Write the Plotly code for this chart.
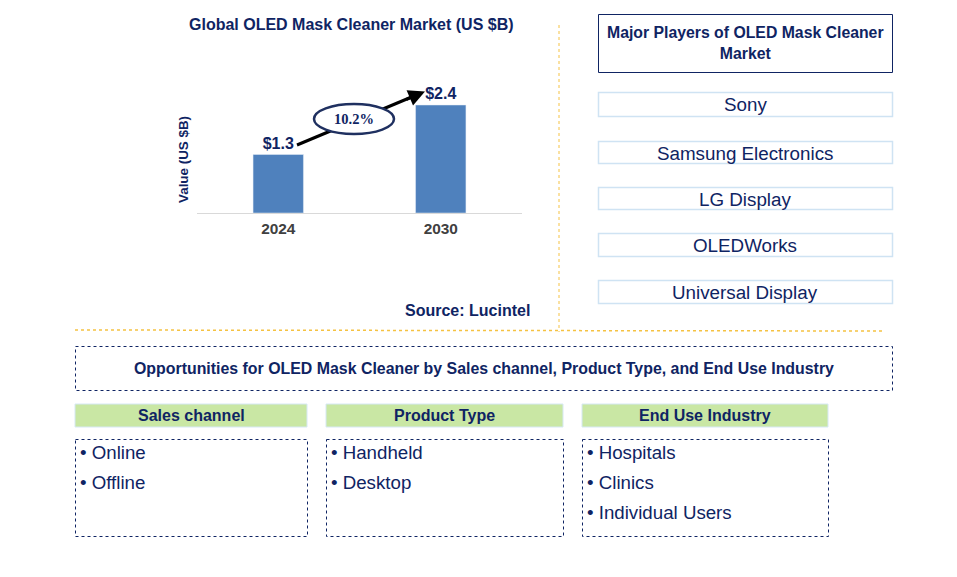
import plotly.graph_objects as go

years = ["2024", "2030"]
values = [1.3, 2.4]
value_labels = ["$1.3", "$2.4"]
cagr = "10.2%"
players = ["Sony", "Samsung Electronics", "LG Display", "OLEDWorks", "Universal Display"]
seg_titles = ["Sales channel", "Product Type", "End Use Industry"]
seg_items = [["Online", "Offline"], ["Handheld", "Desktop"], ["Hospitals", "Clinics", "Individual Users"]]

OFF = 8
W, H = 957 - 2 * OFF, 577 - 2 * OFF
NAVY = "#0f2463"
FONT = "Arial, Liberation Sans, sans-serif"


def px(x):
    return (x - OFF) / W


def py(y):
    return 1 - (y - OFF) / H


def text(x, y, t, size, xanchor="center", family=FONT, color=NAVY, angle=0):
    return dict(x=px(x), y=py(y), xref="paper", yref="paper", text=t, showarrow=False,
                xanchor=xanchor, yanchor="middle", textangle=angle,
                font=dict(family=family, size=size, color=color))


fig = go.Figure()
fig.add_trace(go.Bar(
    x=years, y=values, marker_color="#4f81bd", width=0.31,
    text=value_labels, texttemplate="<b>%{text}</b>", textposition="outside",
    textfont=dict(family=FONT, size=16, color=NAVY),
    cliponaxis=False, hoverinfo="skip",
))

shapes = []
annotations = []

annotations.append(text(351, 25, "<b>Global OLED Mask Cleaner Market (US $B)</b>", 16))
annotations.append(text(183, 160, "<b>Value (US $B)</b>", 13.4, angle=-90))
annotations.append(text(467, 310, "<b>Source: Lucintel</b>", 16))

# Arrow line + ellipse
shapes.append(dict(type="line", xref="paper", yref="paper", x0=px(297), y0=py(145), x1=px(414), y1=py(96),
                   line=dict(color="black", width=3)))
shapes.append(dict(type="circle", xref="paper", yref="paper", x0=px(314), y0=py(104), x1=px(394), y1=py(134),
                   line=dict(color="#1f3060", width=2.5), fillcolor="white"))
annotations.append(dict(x=px(425), y=py(91.5), ax=-20, ay=8.5, xref="paper", yref="paper", axref="pixel", ayref="pixel",
                        text="", showarrow=True, arrowhead=2, arrowsize=1.1, arrowwidth=3, arrowcolor="black"))
annotations.append(text(354, 119, "<b>" + cagr + "</b>", 14.5, family="Times New Roman, Liberation Serif, serif"))

# Divider lines
shapes.append(dict(type="line", xref="paper", yref="paper", x0=px(559), y0=py(25), x1=px(559), y1=py(332),
                   line=dict(color="#f5c242", width=1, dash="dot")))
shapes.append(dict(type="line", xref="paper", yref="paper", x0=px(75), y0=py(330), x1=px(882), y1=py(331),
                   line=dict(color="#f5c242", width=1.5, dash="dot")))

# Major players header
shapes.append(dict(type="rect", xref="paper", yref="paper", x0=px(598.5), y0=py(14.5), x1=px(892.5), y1=py(72.5),
                   line=dict(color=NAVY, width=1)))
annotations.append(text(745, 43, "<b>Major Players of OLED Mask Cleaner<br>Market</b>", 15.8))

player_boxes = [(92, 116), (141, 163), (187, 209), (233, 256), (280, 303)]
for name, (t, b) in zip(players, player_boxes):
    shapes.append(dict(type="rect", xref="paper", yref="paper", x0=px(598.5), y0=py(t + 0.5), x1=px(892.5), y1=py(b + 0.5),
                       line=dict(color="#cfe3f3", width=1.5)))
    annotations.append(text(745, (t + b) / 2 + 1, name, 18.8))

# Opportunities box
shapes.append(dict(type="rect", xref="paper", yref="paper", x0=px(75.5), y0=py(346.5), x1=px(892.5), y1=py(390.5),
                   line=dict(color=NAVY, width=1, dash="dot")))
annotations.append(text(484, 368,
                        "<b>Opportunities for OLED Mask Cleaner by Sales channel, Product Type, and End Use Industry</b>", 15.9))

cols = [(75, 307), (326, 563), (582, 828)]
for (l, r), title, items in zip(cols, seg_titles, seg_items):
    shapes.append(dict(type="rect", xref="paper", yref="paper", x0=px(l), y0=py(404), x1=px(r), y1=py(427),
                       line=dict(color="#d6e8f5", width=1), fillcolor="#c9e7a4"))
    annotations.append(text((l + r) / 2, 415.5, "<b>" + title + "</b>", 16))
    shapes.append(dict(type="rect", xref="paper", yref="paper", x0=px(l + 0.5), y0=py(439.5), x1=px(r + 0.5), y1=py(536.5),
                       line=dict(color=NAVY, width=1, dash="dot")))
    for i, it in enumerate(items):
        annotations.append(text(l + 3, 452 + 30 * i, "• " + it, 18.7, xanchor="left"))

fig.update_layout(
    width=W, height=H, margin=dict(l=0, r=0, t=0, b=0), autosize=False,
    paper_bgcolor="white", plot_bgcolor="white", showlegend=False,
    shapes=shapes, annotations=annotations,
    xaxis=dict(domain=[px(197), px(522)], type="category", range=[-0.5, 1.5], showgrid=False,
               showline=True, linecolor="#d9d9d9", linewidth=1, ticks="", fixedrange=True,
               tickfont=dict(family=FONT, size=15.4, color="#404040"), ticklabelstandoff=2,
               tickprefix="<b>", ticksuffix="</b>"),
    yaxis=dict(domain=[py(213), py(87)], range=[0, 2.8], showgrid=False, showticklabels=False,
               zeroline=False, showline=False, fixedrange=True),
)

fig.write_html("out.html")
